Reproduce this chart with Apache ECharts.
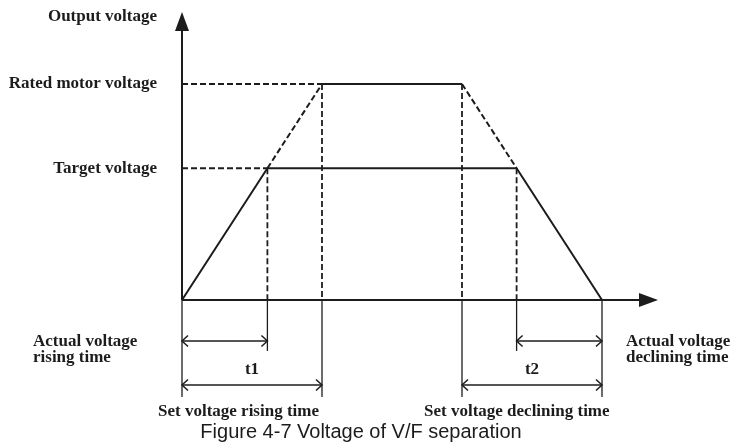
<!DOCTYPE html>
<html>
<head>
<meta charset="utf-8">
<script src="https://cdn.jsdelivr.net/npm/echarts@6/dist/echarts.min.js"></script>
<style>
  html, body { margin: 0; padding: 0; background: #ffffff; }
  #chart { width: 734px; height: 444px; }
</style>
</head>
<body>
<div id="chart"></div>
<script>
// Key instants of the V/F-separation voltage profile (time units)
const timeMarks = [0, 3.05, 5, 10, 11.95, 15];
// Output voltage levels (% of rated motor voltage)
const voltageLevels = [61, 100];
const voltageNames = ['Target voltage', 'Rated motor voltage'];
// Actual output voltage: ramp up to target, hold, ramp down
const actualProfile = [[0, 0], [3.05, 61], [11.95, 61], [15, 0]];
// Rated-voltage plateau of the set ramps
const ratedPlateau = [[5, 100], [10, 100]];
// Set ramps continued up to rated voltage
const setRiseExtension = [[3.05, 61], [5, 100]];
const setDeclineExtension = [[10, 100], [11.95, 61]];
// Time spans: [start, end, row, label]
const spans = [[0, 3.05, 0, ''], [0, 5, 1, 't1'], [11.95, 15, 0, ''], [10, 15, 1, 't2']];
// Extension lines under the time axis: [time, long]
const guides = [[0, 1], [3.05, 0], [5, 1], [10, 1], [11.95, 0], [15, 1]];
// Axis extents (arrow tips)
const xMax = 17;
const yMax = 133.33;
const yMin = -60;

const ink = '#1c1c1c';
const serif = '"Liberation Serif", "DejaVu Serif", serif';
const sans = '"Liberation Sans", Arial, sans-serif';
const serifFont = 'bold 17px ' + serif;

const chart = echarts.init(document.getElementById('chart'), null, { renderer: 'canvas' });

function lineSeries(data, dashed, width) {
  return {
    type: 'line',
    data: data,
    symbol: 'none',
    silent: true,
    animation: false,
    z: dashed ? 2 : 3,
    lineStyle: { color: ink, width: width || 2, type: dashed ? [6, 3] : 'solid', cap: 'butt' }
  };
}

const series = [];

// Dashed reference lines to the voltage axis
series.push(lineSeries([[0, voltageLevels[1]], ratedPlateau[0]], true));
series.push(lineSeries([[0, voltageLevels[0]], actualProfile[1]], true));
// Dashed ramp extensions
series.push(lineSeries(setRiseExtension, true));
series.push(lineSeries(setDeclineExtension, true));
// Dashed drops from each corner to the time axis
[actualProfile[1], ratedPlateau[0], ratedPlateau[1], actualProfile[2]].forEach(function (p) {
  series.push(lineSeries([p, [p[0], 0]], true, 1.8));
});
// Solid curves
series.push(lineSeries(actualProfile, false, 2));
series.push(lineSeries(ratedPlateau, false, 2.2));

// Coordinate axes with filled arrowheads
series.push({
  type: 'custom',
  silent: true,
  animation: false,
  z: 5,
  data: [[0, 0, xMax, 0], [0, 0, 0, yMax]],
  renderItem: function (params, api) {
    const p0 = api.coord([api.value(0), api.value(1)]);
    const p1 = api.coord([api.value(2), api.value(3)]);
    const dx = p1[0] - p0[0], dy = p1[1] - p0[1];
    const len = Math.sqrt(dx * dx + dy * dy);
    const ux = dx / len, uy = dy / len;
    const nx = -uy, ny = ux;
    const L = 19, W = 14;
    const bx = p1[0] - ux * L, by = p1[1] - uy * L;
    return {
      type: 'group',
      children: [
        { type: 'line', shape: { x1: p0[0], y1: p0[1], x2: bx + ux * 2, y2: by + uy * 2 },
          style: { stroke: ink, lineWidth: 2 } },
        { type: 'polygon', shape: { points: [[p1[0], p1[1]], [bx + nx * W / 2, by + ny * W / 2], [bx - nx * W / 2, by - ny * W / 2]] },
          style: { fill: ink } }
      ]
    };
  }
});

// Thin extension lines under the time axis
series.push({
  type: 'custom',
  silent: true,
  animation: false,
  z: 4,
  data: guides,
  renderItem: function (params, api) {
    const p = api.coord([api.value(0), 0]);
    const depth = api.value(1) ? 97 : 51;
    return { type: 'line', shape: { x1: p[0], y1: p[1], x2: p[0], y2: p[1] + depth },
      style: { stroke: ink, lineWidth: 1.3 } };
  }
});

// Double-headed time span arrows
series.push({
  type: 'custom',
  silent: true,
  animation: false,
  z: 4,
  data: spans.map(function (s) { return [s[0], s[1], s[2]]; }),
  renderItem: function (params, api) {
    const a = api.coord([api.value(0), 0]);
    const b = api.coord([api.value(1), 0]);
    const row = api.value(2);
    const y = a[1] + (row ? 85 : 41);
    const x1 = a[0], x2 = b[0];
    const h = 5.5, w = 6;
    const st = { stroke: ink, lineWidth: 1.5, fill: null };
    const children = [
      { type: 'line', shape: { x1: x1, y1: y, x2: x2, y2: y }, style: st },
      { type: 'polyline', shape: { points: [[x1 + w, y - h], [x1, y], [x1 + w, y + h]] }, style: st },
      { type: 'polyline', shape: { points: [[x2 - w, y - h], [x2, y], [x2 - w, y + h]] }, style: st }
    ];
    const label = spans[params.dataIndex][3];
    if (label) {
      children.push({ type: 'text', style: {
        text: label, x: (x1 + x2) / 2, y: a[1] + 70,
        textAlign: 'center', textVerticalAlign: 'middle', align: 'center', verticalAlign: 'middle',
        font: serifFont, fill: ink } });
    }
    return { type: 'group', children: children };
  }
});

function txt(text, x, y, align, font, lh) {
  return {
    type: 'text', silent: true,
    style: {
      text: text, x: x, y: y,
      textAlign: align, textVerticalAlign: 'middle', align: align, verticalAlign: 'middle',
      font: font, fill: ink, lineHeight: lh || 16
    }
  };
}

chart.setOption({
  animation: false,
  backgroundColor: '#ffffff',
  grid: { left: 182, right: 734 - 658, top: 12, bottom: 14.4, containLabel: false },
  xAxis: {
    type: 'value', min: 0, max: xMax, show: false
  },
  yAxis: {
    type: 'value', min: yMin, max: yMax,
    axisLine: { show: false }, axisTick: { show: false }, splitLine: { show: false },
    axisLabel: {
      customValues: voltageLevels,
      formatter: function (v) { return voltageNames[voltageLevels.indexOf(v)] || ''; },
      margin: 25, color: ink, fontFamily: serif, fontSize: 17, fontWeight: 'bold',
      padding: [0, 0, 5, 0]
    }
  },
  graphic: [
    txt('Output voltage', 157, 17, 'right', serifFont),
    txt('Actual voltage\nrising time', 33, 350, 'left', serifFont, 16),
    txt('Actual voltage\ndeclining time', 626, 350, 'left', serifFont, 16),
    txt('Set voltage rising time', 158, 412, 'left', serifFont),
    txt('Set voltage declining time', 424, 412, 'left', serifFont),
    txt('Figure 4-7 Voltage of V/F separation', 361, 432, 'center', '20px ' + sans)
  ],
  series: series
});
</script>
</body>
</html>
